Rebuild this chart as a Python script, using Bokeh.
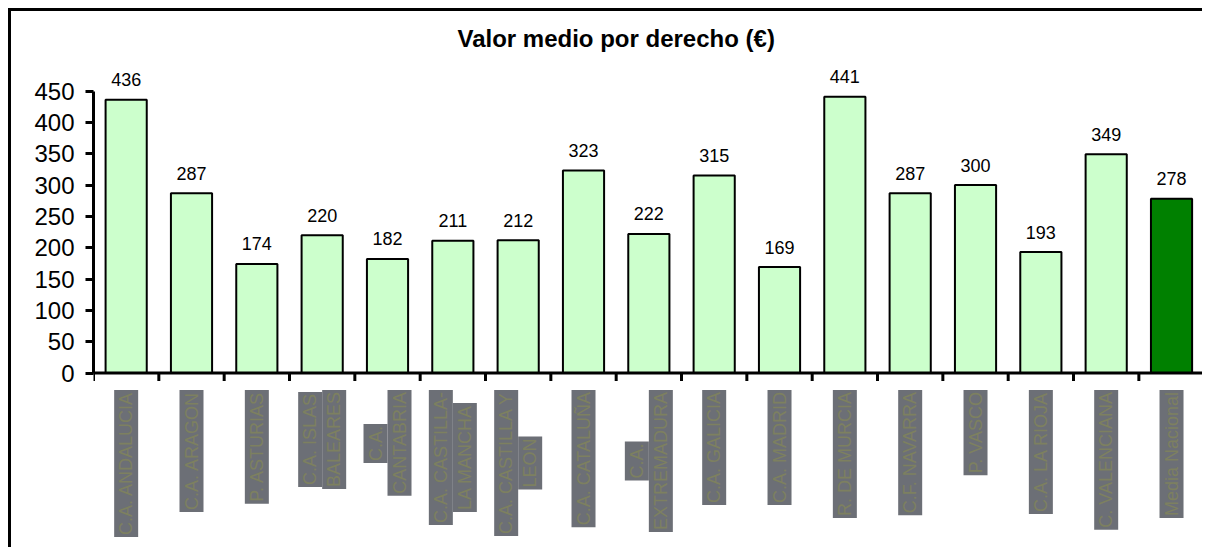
import math
from bokeh.plotting import figure
from bokeh.models import ColumnDataSource, Range1d, FixedTicker
from bokeh.core.properties import value
from bokeh.embed import file_html
from bokeh.resources import INLINE

# ---------------- data ----------------
categories = [
    "C.A. ANDALUCIA", "C.A. ARAGON", "P. ASTURIAS", "C.A. ISLAS\nBALEARES",
    "C.A.\nCANTABRIA", "C.A. CASTILLA-\nLA MANCHA", "C.A. CASTILLA Y\nLEON",
    "C.A. CATALUÑA", "C.A.\nEXTREMADURA", "C.A. GALICIA", "C.A. MADRID",
    "R. DE MURCIA", "C.F. NAVARRA", "P. VASCO", "C.A. LA RIOJA",
    "C. VALENCIANA", "Media Nacional",
]
values = [436, 287, 174, 220, 182, 211, 212, 323, 222, 315, 169, 441, 287, 300, 193, 349, 278]
highlight = "Media Nacional"
y_ticks = [0, 50, 100, 150, 200, 250, 300, 350, 400, 450]
title_text = "Valor medio por derecho (€)"

# ---------------- layout constants ----------------
W, H = 1194, 539
FRAME_LEFT = 82
PX_PER_UNIT = 282 / 450
ZERO_PX = 361.5            # zero line, px below frame top
y_top = ZERO_PX / PX_PER_UNIT
y_bot = -(H - ZERO_PX) / PX_PER_UNIT
n = len(categories)

FONT = "Liberation Sans"
LBL_FS = 18
LINE_STEP = 24
TOP_GAP = 17

# Arial-like advance widths (per 1000 em) for centring stacked lines
CW = dict(zip("ABCDEFGHIJKLMNOPQRSTUVWXYZÑ",
              [667, 667, 722, 722, 667, 611, 778, 722, 278, 500, 667, 556, 833,
               722, 778, 667, 778, 722, 667, 611, 722, 667, 944, 667, 667, 611, 722]))
CW.update({".": 278, " ": 278, "-": 333})


def text_w(s):
    return sum(CW.get(c, 556) for c in s) / 1000.0


# ---------------- sources ----------------
xs = [i + 0.5 for i in range(n)]
fills = ["#008000" if c == highlight else "#CCFFCC" for c in categories]
bar_src = ColumnDataSource(dict(x=xs, top=values, fill=fills, lbl=[str(v) for v in values]))

lx, ly, lt, lxo, lyo = [], [], [], [], []
for i, cat in enumerate(categories):
    lines = cat.split("\n")
    widths = [text_w(l) for l in lines]
    wmax = max(widths)
    nl = len(lines)
    for j, (l, w) in enumerate(zip(lines, widths)):
        lx.append(xs[i])
        ly.append(0)
        lt.append(l)
        lxo.append((j - (nl - 1) / 2) * LINE_STEP)
        lyo.append(TOP_GAP + (wmax - w) / 2 * LBL_FS)
lab_src = ColumnDataSource(dict(x=lx, y=ly, text=lt, xo=lxo, yo=lyo))

# ---------------- figure ----------------
p = figure(width=W, height=H, output_backend="svg", toolbar_location=None,
           x_range=Range1d(0, n + 0.02), y_range=Range1d(y_bot, y_top),
           x_axis_location=None, y_axis_location="left",
           min_border_left=FRAME_LEFT, min_border_right=0,
           min_border_top=0, min_border_bottom=0)
p.styles = {"margin-left": "8px", "margin-top": "8px",
            "border-top": "3px solid black", "border-left": "3px solid black"}
p.outline_line_color = None
p.xgrid.visible = False
p.ygrid.visible = False
p.background_fill_color = "white"
p.border_fill_color = "white"

yax = p.yaxis[0]
yax.ticker = FixedTicker(ticks=y_ticks)
yax.bounds = (min(y_ticks), max(y_ticks))
yax.axis_line_width = 3
yax.axis_line_color = "black"
yax.major_tick_line_width = 3
yax.major_tick_line_color = "black"
yax.major_tick_out = 8
yax.major_tick_in = 0
yax.minor_tick_line_color = None
yax.major_label_text_font = FONT
yax.major_label_text_font_size = "24px"
yax.major_label_text_color = "black"
yax.major_label_standoff = 11

# bars
p.vbar(x="x", top="top", bottom=0, width=0.63, fill_color="fill", line_color="black",
       line_width=2, source=bar_src)

# value labels
p.text(x="x", y="top", text="lbl", source=bar_src, y_offset=-20,
       text_align="center", text_baseline="alphabetic",
       text_font=value(FONT), text_font_size="18px", text_color="black")

# category axis line and ticks at category boundaries
p.segment(x0=[0], y0=[0], x1=[n], y1=[0], line_color="black", line_width=3)
p.ray(x=list(range(n + 1)), y=[0] * (n + 1), length=8, length_units="screen",
      angle=-math.pi / 2, line_color="black", line_width=3)

# category labels (vertical, in grey boxes)
p.text(x="x", y="y", text="text", x_offset="xo", y_offset="yo", source=lab_src,
       angle=math.pi / 2, text_align="right", text_baseline="middle",
       text_font=value(FONT), text_font_size=f"{LBL_FS}px", text_color="#7d8060",
       background_fill_color="#6c6f76", padding=2)

# title
p.text(x=[(n - 1) / 2], y=[y_top], text=[title_text], y_offset=27,
       text_align="center", text_baseline="alphabetic",
       text_font=value(FONT), text_font_size="24px", text_font_style="bold",
       text_color="black")

open("out.html", "w").write(file_html(p, INLINE))
